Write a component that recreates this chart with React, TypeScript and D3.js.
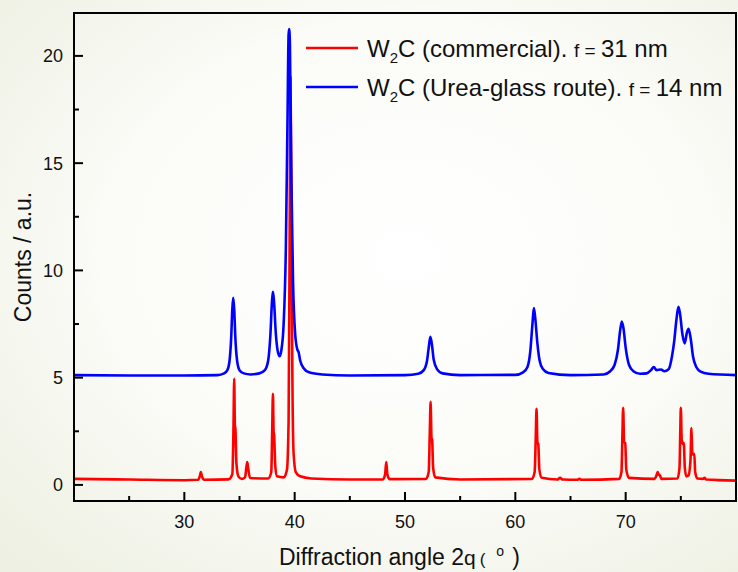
import React from "react";
import * as d3 from "d3";

// [2θ (deg), counts (a.u.)]
const blueSeries: [number, number][] = [
  [20, 5.12], [25, 5.1], [30, 5.1], [33, 5.12], [33.6, 5.2], [33.9, 5.35], [34.1, 5.8], [34.25, 6.9],
  [34.35, 8.2], [34.43, 8.72], [34.52, 8.2], [34.62, 6.9], [34.78, 5.8], [35.0, 5.35], [35.4, 5.2],
  [36.0, 5.15], [36.8, 5.2], [37.3, 5.35], [37.6, 5.8], [37.8, 7.0], [37.95, 8.6], [38.03, 9.0],
  [38.12, 8.6], [38.3, 7.0], [38.5, 6.15], [38.65, 6.0], [38.8, 6.3], [39.0, 7.5], [39.2, 11],
  [39.35, 17], [39.45, 21.0], [39.5, 21.25], [39.57, 20.5], [39.68, 15], [39.85, 9.5], [40.05, 7.0],
  [40.25, 6.3], [40.35, 6.2], [40.5, 5.8], [40.8, 5.45], [41.3, 5.25], [42.5, 5.15], [45, 5.1],
  [50, 5.12], [51.2, 5.18], [51.7, 5.35], [52.0, 5.8], [52.15, 6.4], [52.3, 6.9], [52.45, 6.5],
  [52.6, 5.85], [52.9, 5.4], [53.4, 5.2], [55, 5.12], [60, 5.13], [60.7, 5.25], [61.1, 5.5],
  [61.35, 6.2], [61.55, 7.5], [61.68, 8.25], [61.8, 7.8], [62.0, 6.6], [62.2, 5.8], [62.5, 5.4],
  [63.0, 5.22], [65, 5.12], [68, 5.15], [68.6, 5.3], [69.0, 5.6], [69.3, 6.3], [69.5, 7.2],
  [69.65, 7.62], [69.8, 7.3], [70.0, 6.4], [70.3, 5.6], [70.7, 5.3], [71.3, 5.18], [71.9, 5.2],
  [72.3, 5.35], [72.55, 5.5], [72.8, 5.35], [73.2, 5.38], [73.5, 5.3], [73.9, 5.4], [74.2, 6.0],
  [74.4, 6.7], [74.6, 7.7], [74.78, 8.3], [74.92, 8.0], [75.15, 7.0], [75.35, 6.6], [75.55, 7.1],
  [75.7, 7.28], [75.9, 6.8], [76.1, 6.0], [76.4, 5.5], [76.8, 5.28], [77.5, 5.18], [80, 5.12],
];

const redSeries: [number, number][] = [
  [20, 0.28], [25, 0.25], [30, 0.22], [31.25, 0.24], [31.4, 0.4], [31.5, 0.6], [31.6, 0.4], [31.8, 0.24],
  [34.0, 0.26], [34.35, 0.5], [34.45, 2.5], [34.52, 4.95], [34.58, 2.8], [34.63, 2.6], [34.72, 1.0],
  [34.9, 0.4], [35.2, 0.28], [35.5, 0.35], [35.62, 0.8], [35.7, 1.07], [35.78, 0.8], [35.95, 0.32],
  [37.6, 0.3], [37.88, 0.6], [37.96, 2.4], [38.03, 4.25], [38.09, 2.5], [38.14, 2.3], [38.24, 0.9],
  [38.4, 0.4], [39.0, 0.35], [39.3, 0.7], [39.45, 3.0], [39.55, 12], [39.62, 19], [39.7, 14],
  [39.78, 6], [39.9, 1.5], [40.1, 0.6], [40.5, 0.4], [41.5, 0.3], [45, 0.25], [48.0, 0.26],
  [48.2, 0.5], [48.3, 1.07], [48.4, 0.5], [48.6, 0.27], [51.9, 0.28], [52.15, 0.6], [52.25, 2.5],
  [52.32, 3.87], [52.4, 2.2], [52.46, 2.1], [52.55, 0.8], [52.75, 0.35], [55, 0.25], [61.5, 0.28],
  [61.75, 0.6], [61.85, 2.2], [61.92, 3.55], [62.0, 2.0], [62.08, 1.9], [62.18, 0.7], [62.4, 0.33],
  [63.8, 0.25], [64.05, 0.33], [64.3, 0.25], [65.6, 0.24], [65.8, 0.28], [66.0, 0.24], [69.4, 0.28],
  [69.62, 0.6], [69.7, 2.2], [69.77, 3.6], [69.86, 2.0], [69.96, 1.95], [70.06, 0.7], [70.3, 0.33],
  [72.6, 0.28], [72.8, 0.45], [72.9, 0.6], [73.0, 0.48], [73.1, 0.45], [73.25, 0.28], [74.7, 0.3],
  [74.88, 0.8], [74.95, 2.5], [75.0, 3.6], [75.08, 2.1], [75.2, 1.9], [75.27, 1.95], [75.36, 0.8],
  [75.5, 0.4], [75.7, 0.45], [75.88, 1.2], [75.96, 2.65], [76.04, 1.5], [76.14, 1.4], [76.22, 1.45],
  [76.3, 0.6], [76.5, 0.3], [77.0, 0.28], [77.15, 0.33], [77.3, 0.25], [80, 0.2],
];

const xMajorTicks = [30, 40, 50, 60, 70];
const xMinorTicks = [25, 35, 45, 55, 65, 75];
const yMajorTicks = [0, 5, 10, 15, 20];
const yMinorTicks = [2.5, 7.5, 12.5, 17.5];

const xDomain: [number, number] = [20, 80];
const yDomain: [number, number] = [-0.75, 22];

const FONT = "'Liberation Sans', Arial, Helvetica, sans-serif";

export default function App() {
  const W = 738;
  const H = 572;
  const left = 74, right = 736, top = 13, bottom = 501;
  const x = d3.scaleLinear().domain(xDomain).range([left, right]);
  const y = d3.scaleLinear().domain(yDomain).range([bottom, top]);
  const line = d3
    .line<[number, number]>()
    .x((d) => x(d[0]))
    .y((d) => y(d[1]))
    .curve(d3.curveMonotoneX);

  const legendX1 = 306, legendX2 = 358, textX = 367;
  const rows = [
    { y: 48, color: "#ff0000", name: "(commercial). ", val: "31 nm" },
    { y: 87, color: "#0000ff", name: "(Urea-glass route). ", val: "14 nm" },
  ];

  return (
    <svg
      width={W}
      height={H}
      style={{ position: "absolute", left: 0, top: 0, display: "block" }}
      fontFamily={FONT}
    >
      <defs>
        <radialGradient id="bg" cx="0.55" cy="0.45" r="0.75">
          <stop offset="0" stopColor="#ffffff" />
          <stop offset="0.55" stopColor="#fbfbf7" />
          <stop offset="1" stopColor="#edf0e2" />
        </radialGradient>
        <clipPath id="plotClip">
          <rect x={left} y={top} width={right - left} height={bottom - top} />
        </clipPath>
      </defs>
      <rect x={0} y={0} width={W} height={H} fill="url(#bg)" />

      <g clipPath="url(#plotClip)">
        <path d={line(redSeries) || ""} fill="none" stroke="#ff0000" strokeWidth={2.6} strokeLinejoin="round" />
        <path d={line(blueSeries) || ""} fill="none" stroke="#0000ff" strokeWidth={2.6} strokeLinejoin="round" />
      </g>

      {/* frame */}
      <rect x={left} y={top} width={right - left} height={bottom - top} fill="none" stroke="#000" strokeWidth={2} />

      {/* x ticks */}
      {xMajorTicks.map((t) => (
        <g key={"xm" + t}>
          <line x1={x(t)} x2={x(t)} y1={bottom} y2={bottom - 9} stroke="#000" strokeWidth={2} />
          <text x={x(t)} y={528} fontSize={18} textAnchor="middle" fill="#111">
            {t}
          </text>
        </g>
      ))}
      {xMinorTicks.map((t) => (
        <line key={"xn" + t} x1={x(t)} x2={x(t)} y1={bottom} y2={bottom - 5} stroke="#000" strokeWidth={2} />
      ))}

      {/* y ticks */}
      {yMajorTicks.map((t) => (
        <g key={"ym" + t}>
          <line x1={left} x2={left + 9} y1={y(t)} y2={y(t)} stroke="#000" strokeWidth={2} />
          <text x={63} y={y(t) + 6.5} fontSize={18} textAnchor="end" fill="#111">
            {t}
          </text>
        </g>
      ))}
      {yMinorTicks.map((t) => (
        <line key={"yn" + t} x1={left} x2={left + 5} y1={y(t)} y2={y(t)} stroke="#000" strokeWidth={2} />
      ))}

      {/* axis titles */}
      <text
        transform={`translate(31, ${(top + bottom) / 2}) rotate(-90)`}
        fontSize={23}
        textAnchor="middle"
        fill="#111"
      >
        Counts / a.u.
      </text>
      <text x={279} y={565} fontSize={23} fill="#111">
        Diffraction angle 2<tspan fontSize={21}>q</tspan>
        <tspan fontSize={17} dx={4}>(</tspan>
        <tspan fontSize={14} dx={11} dy={-9}>o</tspan>
        <tspan dx={8} dy={9}>)</tspan>
      </text>

      {/* legend */}
      {rows.map((r) => (
        <g key={r.name}>
          <line x1={legendX1} x2={legendX2} y1={r.y} y2={r.y} stroke={r.color} strokeWidth={2.6} />
          <text x={textX} y={r.y + 9} fontSize={24} fill="#111">
            W<tspan fontSize={15} dy={6}>2</tspan>
            <tspan dy={-6}>C {r.name}</tspan>
            <tspan fontSize={19}>f = </tspan>
            <tspan>{r.val}</tspan>
          </text>
        </g>
      ))}
    </svg>
  );
}
